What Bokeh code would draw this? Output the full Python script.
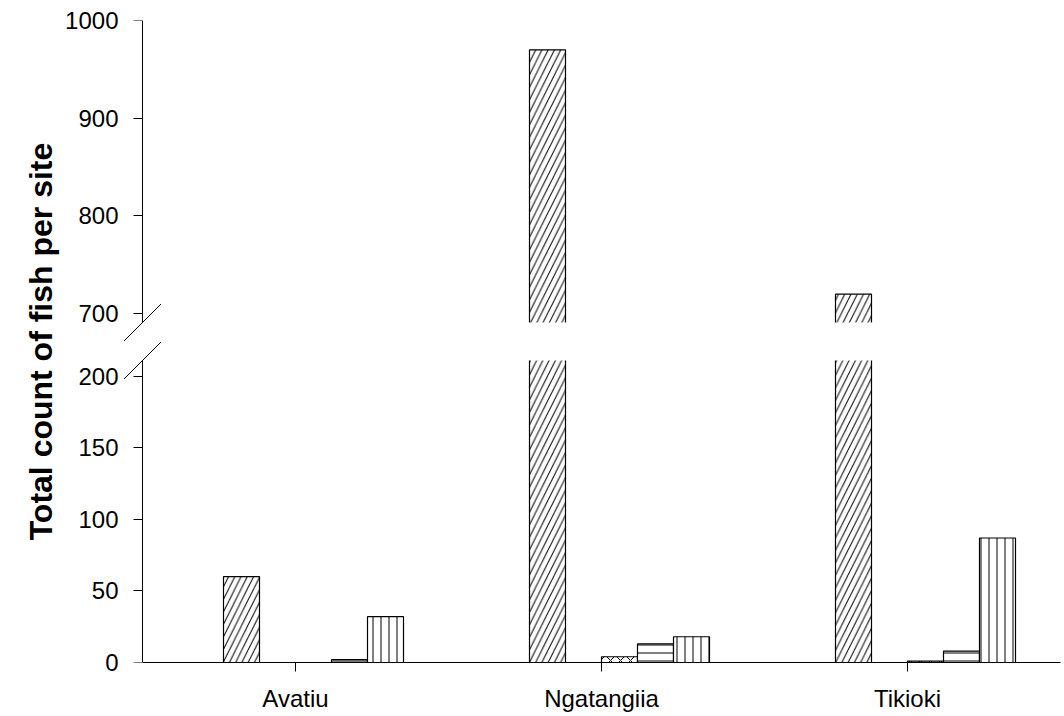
import math
from bokeh.plotting import figure
from bokeh.models import Range1d, LinearAxis, FixedTicker, BoxAnnotation
from bokeh.embed import file_html
from bokeh.resources import INLINE

# ---------------- data ----------------
sites = ["Avatiu", "Ngatangiia", "Tikioki"]
series_diag = [60, 970, 720]
series_cross = [0, 4, 1]
series_horiz = [2, 13, 8]
series_vert = [32, 18, 87]
lower_ticks = [0, 50, 100, 150, 200]
upper_ticks = [700, 800, 900, 1000]
y_label = "Total count of fish per site"

# axis break
LOWER_MAX = 211
UPPER_MIN = 691
UPPER_MAX = 1000

# ---------------- layout ----------------
W, H = 1062, 714
FRAME_LEFT, FRAME_RIGHT = 121, 1060      # canvas px
AXIS_PX = 142                            # where the y axis sits (canvas px)
CAT_PX = 306                             # px between categories
SEG_H, GAP_H = 302, 38
FRAME_H = 2 * SEG_H + GAP_H
BAR_W = 36 / CAT_PX
FONT = "Liberation Sans"

x_start = -0.5 - (AXIS_PX - FRAME_LEFT) / CAT_PX
x_end = -0.5 + (FRAME_RIGHT - AXIS_PX) / CAT_PX
lower_end = round(LOWER_MAX * FRAME_H / SEG_H, 3)
upper_start = UPPER_MAX - (UPPER_MAX - UPPER_MIN) * FRAME_H / SEG_H
gap_top_lower = LOWER_MAX * (SEG_H + GAP_H) / SEG_H

def upper_to_lower(v):
    if v >= UPPER_MAX:
        return lower_end
    return round((v - upper_start) / (UPPER_MAX - upper_start) * lower_end, 3)

p = figure(width=W, height=H, x_range=Range1d(x_start, x_end), y_range=Range1d(0, lower_end),
           output_backend="svg", toolbar_location=None, y_axis_location=None,
           min_border_left=FRAME_LEFT, min_border_right=W - FRAME_RIGHT,
           min_border_top=20, min_border_bottom=0)
p.extra_y_ranges = {"upper": Range1d(upper_start, UPPER_MAX)}
p.outline_line_color = None
p.grid.grid_line_color = None
p.background_fill_color = "white"
p.border_fill_color = "white"

# x axis
xa = p.xaxis[0]
xa.ticker = FixedTicker(ticks=list(range(len(sites))))
xa.major_label_overrides = {i: s for i, s in enumerate(sites)}
xa.bounds = (-0.5, x_end)
xa.axis_line_color = "black"
xa.axis_line_width = 1
xa.major_tick_out = 9
xa.major_tick_in = 0
xa.minor_tick_line_color = None
xa.major_label_text_font = FONT
xa.major_label_text_font_size = "24px"
xa.major_label_text_color = "black"
xa.major_label_standoff = 13

# y tick labels (both segments) + axis title, in the left panel
label_ticks = list(lower_ticks) + [upper_to_lower(v) for v in upper_ticks]
label_text = {t: str(t) for t in lower_ticks}
label_text.update({upper_to_lower(v): str(v) for v in upper_ticks})
ya_lab = LinearAxis(ticker=FixedTicker(ticks=label_ticks), major_label_overrides=label_text)
ya_lab.axis_line_color = None
ya_lab.major_tick_line_color = None
ya_lab.minor_tick_line_color = None
ya_lab.major_tick_out = 0
ya_lab.major_tick_in = 0
ya_lab.major_label_standoff = 3
ya_lab.major_label_text_font = FONT
ya_lab.major_label_text_font_size = "24px"
ya_lab.major_label_text_color = "black"
ya_lab.axis_label = y_label
ya_lab.axis_label_text_font = FONT
ya_lab.axis_label_text_font_size = "32px"
ya_lab.axis_label_text_font_style = "bold"
ya_lab.axis_label_text_color = "black"
ya_lab.axis_label_standoff = 3
p.add_layout(ya_lab, "left")

# y axis lines + ticks for each segment (placed at the axis position)
def line_axis(ticks, bounds, rng):
    ax = LinearAxis(y_range_name=rng, ticker=FixedTicker(ticks=ticks), bounds=bounds,
                    fixed_location=-0.5)
    ax.axis_line_color = "black"
    ax.axis_line_width = 1
    ax.major_tick_out = 9
    ax.major_tick_in = 0
    ax.major_tick_line_color = "black"
    ax.minor_tick_line_color = None
    ax.major_label_text_color = None
    p.add_layout(ax, "left")

line_axis(lower_ticks, (0, LOWER_MAX), "default")
line_axis(upper_ticks, (UPPER_MIN, UPPER_MAX), "upper")

# bars
series = [
    (series_diag, "right_diagonal_line", 12.5, -1.5),
    (series_cross, "diagonal_cross", 10, 0.5),
    (series_horiz, "horizontal_line", 8, 1.5),
    (series_vert, "vertical_line", 8, 2.5),
]
for vals, pat, sc, slot in series:
    xs = [i + slot * BAR_W for i in range(len(sites))]
    low_top = [min(v, LOWER_MAX + 2) for v in vals]
    p.vbar(x=xs, top=low_top, bottom=0, width=BAR_W, fill_color="white",
           line_color="black", line_width=1.2, hatch_pattern=pat, hatch_scale=sc,
           hatch_color="black", hatch_weight=1)
    hx = [x for x, v in zip(xs, vals) if v > UPPER_MIN]
    hv = [v for v in vals if v > UPPER_MIN]
    if hx:
        p.vbar(x=hx, top=hv, bottom=UPPER_MIN - 3, width=BAR_W, y_range_name="upper",
               fill_color="white", line_color="black", line_width=1.2, hatch_pattern=pat,
               hatch_scale=sc, hatch_color="black", hatch_weight=1)

# white mask over the break gap
p.add_layout(BoxAnnotation(left=-0.42, right=x_end + 1, bottom=LOWER_MAX, top=gap_top_lower,
                           fill_color="white", fill_alpha=1, line_color=None))

# break marks
dx = 18.5 / CAT_PX
dy_low = 18.5 * LOWER_MAX / SEG_H
dy_up = 18.5 * (UPPER_MAX - UPPER_MIN) / SEG_H
p.segment(x0=[-0.5 - dx], y0=[LOWER_MAX - dy_low], x1=[-0.5 + dx], y1=[LOWER_MAX + dy_low],
          line_color="black", line_width=1)
p.segment(x0=[-0.5 - dx], y0=[UPPER_MIN - dy_up], x1=[-0.5 + dx], y1=[UPPER_MIN + dy_up],
          line_color="black", line_width=1, y_range_name="upper")

open("out.html", "w").write(file_html(p, INLINE))
